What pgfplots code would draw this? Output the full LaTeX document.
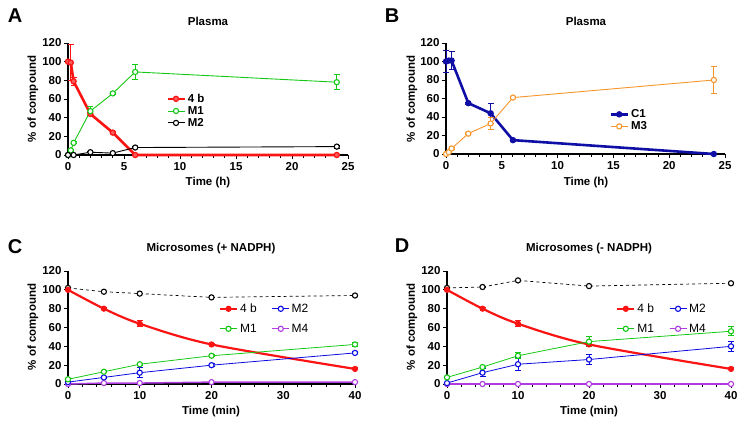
\documentclass[border=0pt]{standalone}
\usepackage{fontspec}
\setmainfont{Liberation Sans}
\usepackage{pgfplots}
\pgfplotsset{compat=1.18}
\definecolor{cred}{RGB}{250,20,20}
\definecolor{cgreen}{RGB}{20,200,20}
\definecolor{cnavy}{RGB}{15,15,165}
\definecolor{corange}{RGB}{245,150,45}
\definecolor{cblue}{RGB}{10,10,225}
\definecolor{cpurple}{RGB}{175,60,225}
\newcommand{\tf}{\bfseries\fontsize{11.5}{12}\selectfont}
\pgfplotsset{
 prism/.style={
  scale only axis, clip=false,
  axis x line*=bottom, axis y line*=left,
  axis line style={line width=1.2pt},
  every tick/.style={black, line width=1pt},
  tick align=outside,
  major tick length=4pt, minor tick length=2.5pt,
  ymin=0, ymax=120, ytick={0,20,...,120},
  ticklabel style={font=\tf},
  yticklabel style={xshift=1pt},
  /pgf/number format/assume math mode=true,
  legend cell align=left,
  legend style={draw=none, fill=none, font=\tf, inner sep=0pt, row sep=-1.5pt},
  every axis plot/.append style={mark=*, mark size=2.6pt,
     mark options={fill=white, line width=1.1pt, solid},
     /pgfplots/error bars/y dir=both, /pgfplots/error bars/y explicit,
     /pgfplots/error bars/error bar style={line width=1pt, solid},
     /pgfplots/error bars/error mark options={rotate=90, mark size=3pt, line width=1pt}},
 },
}
\begin{document}
\begin{tikzpicture}[x=1pt,y=1pt]
\path[use as bounding box] (0,0) rectangle (741,424);
% ---------- A ----------
\begin{axis}[prism, at={(68pt,269pt)}, anchor=south west, width=280pt, height=112pt,
  xmin=0, xmax=25, xtick={0,5,...,25}, minor x tick num=4,
  legend style={at={(0.35,0.565)}, anchor=north west}]
\addplot[cred, line width=2.6pt, mark options={fill=cred!70, line width=1.2pt}] table[x=x,y=y,y error=e] {
x y e
0 100 0
0.25 99 19
0.5 79 4
2 44 2
4 24 1
6 0 0
24 0 0
};
\addlegendentry{4 b}
\addplot[cgreen, line width=0.9pt] table[x=x,y=y,y error=e] {
x y e
0 0 0
0.25 5 1
0.5 13 1
2 47 5
4 66 1
6 89 8
24 78 8
};
\addlegendentry{M1}
\addplot[black, line width=0.9pt] table[x=x,y=y,y error=e] {
x y e
0 0 0
0.5 0 0
2 3 0.5
4 2 0.5
6 8 1
24 9 1.5
};
\addlegendentry{M2}
\end{axis}
% ---------- B ----------
\begin{axis}[prism, at={(446pt,270pt)}, anchor=south west, width=279pt, height=111pt,
  xmin=0, xmax=25, xtick={0,5,...,25}, minor x tick num=4,
  legend style={at={(0.585,0.42)}, anchor=north west}]
\addplot[cnavy, line width=2.6pt, mark options={fill=cnavy, line width=1.2pt}] table[x=x,y=y,y error=e] {
x y e
0 100 12
0.25 101 0
0.5 101 10
2 55 1
4 44 11
6 15 1
24 0 0
};
\addlegendentry{C1}
\addplot[corange, line width=0.9pt] table[x=x,y=y,y error=e] {
x y e
0 0 0
0.25 2 0.5
0.5 6 1
2 22 1
4 33 7
6 61 1
24 80 15
};
\addlegendentry{M3}
\end{axis}
% ---------- C ----------
\begin{axis}[prism, at={(68pt,40pt)}, anchor=south west, width=287pt, height=113pt,
  xmin=0, xmax=40, xtick={0,10,...,40}, minor x tick num=4,
  legend columns=2,
  legend style={at={(0.525,0.73)}, anchor=north west, font=\fontsize{12}{13}\selectfont,
    /tikz/every even column/.append style={column sep=13pt}, row sep=6pt}]
\addplot[black, line width=0.7pt, dashed, forget plot] table[x=x,y=y,y error=e] {
x y e
0 102 0
5 98 0
10 96 0
20 92 0
40 94 0
};
\addplot[cpurple, line width=1.5pt, forget plot] table[x=x,y=y,y error=e] {
x y e
0 0 0
5 1 0
10 1 0
20 2 0
40 2 0
};
\addplot[cred, line width=2.2pt, smooth, mark options={fill=cred, line width=1pt}] table[x=x,y=y,y error=e] {
x y e
0 100 0
5 80 1
10 64 3
20 42 1
40 16 1
};
\addlegendentry{4 b}
\addplot[cblue, line width=0.8pt] table[x=x,y=y,y error=e] {
x y e
0 2 0
5 7 1
10 12 5
20 20 1.5
40 33 1
};
\addlegendentry{M2}
\addplot[cgreen, line width=0.8pt] table[x=x,y=y,y error=e] {
x y e
0 5 0.5
5 13 1
10 21 1
20 30 1
40 42 2
};
\addlegendentry{M1}
\addlegendimage{cpurple, line width=0.8pt, mark=*, mark size=2.6pt, mark options={fill=white, line width=1.1pt}}
\addlegendentry{M4}
\end{axis}
% ---------- D ----------
\begin{axis}[prism, at={(447pt,40pt)}, anchor=south west, width=284pt, height=113pt,
  xmin=0, xmax=40, xtick={0,10,...,40}, minor x tick num=4,
  legend columns=2,
  legend style={at={(0.595,0.73)}, anchor=north west, font=\fontsize{12}{13}\selectfont,
    /tikz/every even column/.append style={column sep=13pt}, row sep=6pt}]
\addplot[black, line width=0.7pt, dashed, forget plot] table[x=x,y=y,y error=e] {
x y e
0 102 0
5 103 0
10 110 0
20 104 0
40 107 0
};
\addplot[cpurple, line width=1.5pt, forget plot] table[x=x,y=y,y error=e] {
x y e
0 0 0
5 0 0
10 0 0
20 0 0
40 0 0
};
\addplot[cred, line width=2.2pt, smooth, mark options={fill=cred, line width=1pt}] table[x=x,y=y,y error=e] {
x y e
0 100 0
5 80 1
10 64 3
20 42 1.5
40 16 1
};
\addlegendentry{4 b}
\addplot[cblue, line width=0.8pt] table[x=x,y=y,y error=e] {
x y e
0 1 0
5 12 4
10 21 7
20 26 5
40 40 5
};
\addlegendentry{M2}
\addplot[cgreen, line width=0.8pt] table[x=x,y=y,y error=e] {
x y e
0 7 1
5 18 1
10 30 3
20 45 5
40 56 5
};
\addlegendentry{M1}
\addlegendimage{cpurple, line width=0.8pt, mark=*, mark size=2.6pt, mark options={fill=white, line width=1.1pt}}
\addlegendentry{M4}
\end{axis}
% ---------- text ----------
\node[font=\bfseries\fontsize{20}{22}\selectfont] at (15,408) {A};
\node[font=\bfseries\fontsize{20}{22}\selectfont] at (392,408) {B};
\node[font=\bfseries\fontsize{20}{22}\selectfont] at (15,177) {C};
\node[font=\bfseries\fontsize{20}{22}\selectfont] at (402,178) {D};
\node[font=\tf] at (208,403) {Plasma};
\node[font=\tf] at (586,403) {Plasma};
\node[font=\tf] at (211,175) {Microsomes (+ NADPH)};
\node[font=\tf] at (589,175) {Microsomes (- NADPH)};
\node[font=\tf] at (208,241) {Time (h)};
\node[font=\tf] at (586,241) {Time (h)};
\node[font=\tf] at (211,12) {Time (min)};
\node[font=\tf] at (589,12) {Time (min)};
\node[font=\tf, rotate=90] at (33,325) {\% of compound};
\node[font=\tf, rotate=90] at (412,325) {\% of compound};
\node[font=\tf, rotate=90] at (33,97) {\% of compound};
\node[font=\tf, rotate=90] at (412,97) {\% of compound};
\end{tikzpicture}
\end{document}
